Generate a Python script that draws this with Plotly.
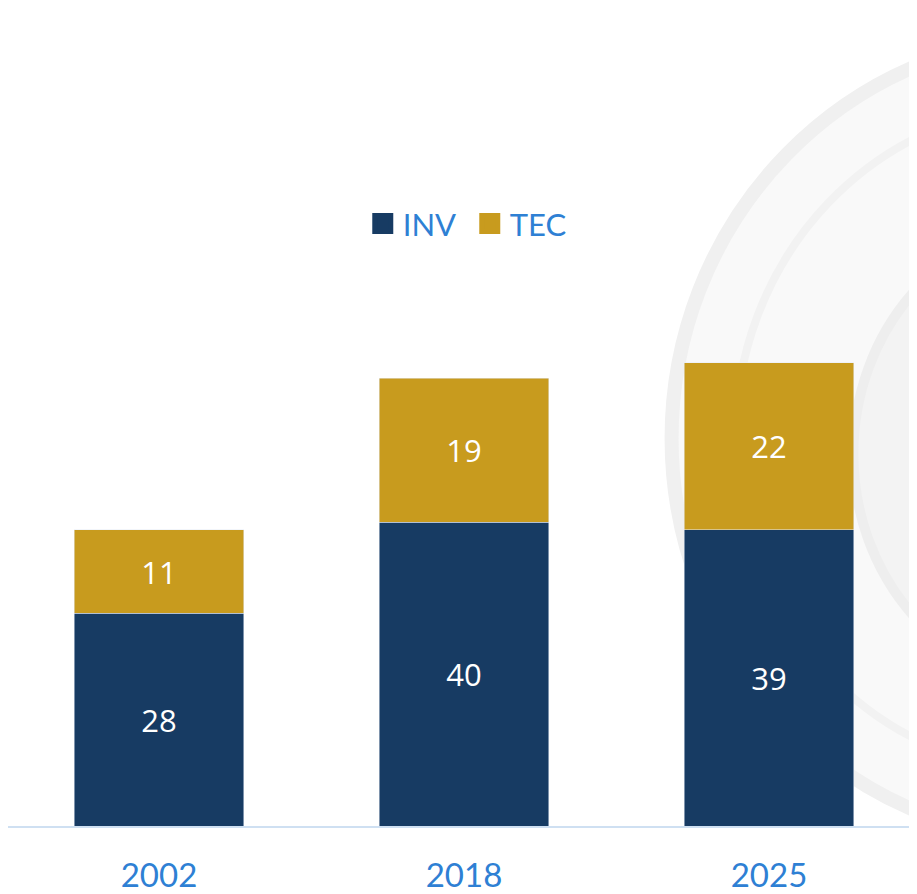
import plotly.graph_objects as go

years = ["2002", "2018", "2025"]
inv = [28, 40, 39]
tec = [11, 19, 22]

NAVY = "#173b63"
GOLD = "#c89b1e"
BLUE = "#2e80d4"

fig = go.Figure()
fig.add_trace(go.Bar(x=years, y=inv, name="INV", marker_color=NAVY, text=inv,
                     textposition="inside", insidetextanchor="middle",
                     textfont=dict(family="Open Sans", size=31, color="white"),
                     showlegend=False, hoverinfo="skip"))
fig.add_trace(go.Bar(x=years, y=tec, name="TEC", marker_color=GOLD, text=tec,
                     textposition="inside", insidetextanchor="middle",
                     textfont=dict(family="Open Sans", size=31, color="white"),
                     showlegend=False, hoverinfo="skip"))
# legend proxies
for nm, col in [("INV", NAVY), ("TEC", GOLD)]:
    fig.add_trace(go.Scatter(x=[None], y=[None], mode="markers", name=nm,
                             marker=dict(symbol="square", size=16, color=col,
                                         line=dict(color=col, width=5))))

# faint background watermark
fig.add_shape(type="circle", xref="paper", yref="paper", layer="below",
              x0=0.73, x1=1.60, y0=-0.02, y1=1.02,
              fillcolor="#f9f9f9", line=dict(color="#f0f0f0", width=14))
fig.add_shape(type="circle", xref="paper", yref="paper", layer="below",
              x0=0.80, x1=1.50, y0=0.07, y1=0.93,
              fillcolor="rgba(0,0,0,0)", line=dict(color="#f2f2f2", width=8))
fig.add_shape(type="circle", xref="paper", yref="paper", layer="below",
              x0=0.93, x1=1.40, y0=0.18, y1=0.78,
              fillcolor="#f3f3f3", line=dict(color="#eeeeee", width=10))

fig.update_layout(
    width=909, height=886,
    margin=dict(l=0, r=0, t=43, b=65),
    barmode="stack", bargap=0.443,
    plot_bgcolor="rgba(0,0,0,0)", paper_bgcolor="white",
    showlegend=True,
    legend=dict(orientation="h", x=0.508, xanchor="center", y=0.777, yanchor="middle",
                traceorder="normal",
                font=dict(family="Lato", size=31, color=BLUE),
                itemsizing="trace", entrywidth=62, bgcolor="rgba(0,0,0,0)"),
    xaxis=dict(type="category", range=[-0.4951, 2.4852], showline=True,
               linecolor="#cfe0f2", linewidth=2, ticks="", showgrid=False,
               tickfont=dict(family="Lato", size=33, color=BLUE), ticklabelstandoff=19),
    yaxis=dict(range=[0, 102.1], visible=False, showgrid=False, zeroline=False),
)

fig.write_html("out.html")
